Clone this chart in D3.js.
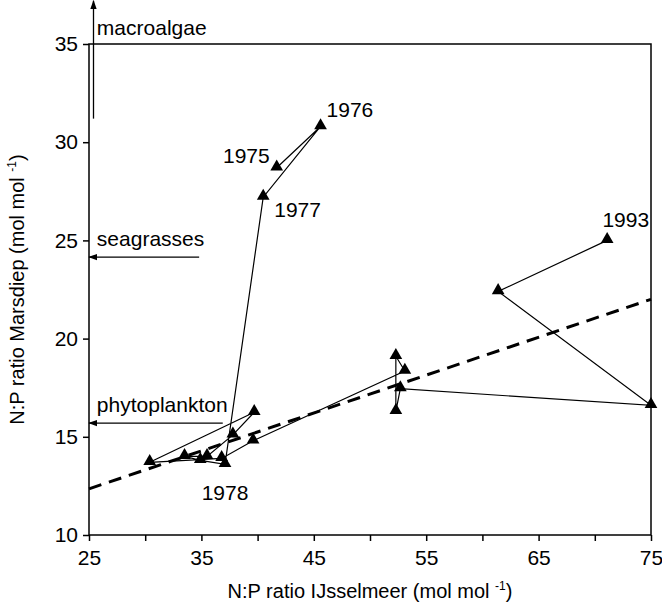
<!DOCTYPE html>
<html>
<head>
<meta charset="utf-8">
<script src="https://d3js.org/d3.v7.min.js"></script>
<style>
  body { margin: 0; background: #fff; }
  text { font-family: "Liberation Sans", Arial, sans-serif; fill: #000; }
</style>
</head>
<body>
<div id="chart"></div>
<script>
// yearly N:P ratios, IJsselmeer (x) vs Marsdiep (y)
var years = [1975, 1976, 1977, 1978, 1979, 1980, 1981, 1982, 1983, 1984,
             1985, 1986, 1987, 1988, 1989, 1990, 1991, 1992, 1993];
var npIJsselmeer = [41.7, 45.6, 40.5, 37.1, 34.9, 33.5, 35.5, 37.8, 39.7, 30.4,
                    36.8, 39.6, 53.1, 52.3, 52.3, 52.7, 75.0, 61.4, 71.1];
var npMarsdiep = [28.7, 30.8, 27.2, 13.6, 13.8, 14.0, 14.0, 15.1, 16.25, 13.7,
                  13.9, 14.8, 18.35, 19.1, 16.3, 17.45, 16.6, 22.4, 25.0];
var labelledYears = [1975, 1976, 1977, 1978, 1993];

// regression line end points
var fitX = [25, 75];
var fitY = [12.35, 22.0];

// optimum N:P ratios of the primary producers
var producers = ["macroalgae", "seagrasses", "phytoplankton"];
var producerRatio = [35, 24.15, 15.7];

var xTicks = [25, 30, 35, 40, 45, 50, 55, 60, 65, 70, 75];
var xTickLabels = [25, 35, 45, 55, 65, 75];
var yTicks = [10, 15, 20, 25, 30, 35];

var margin = { top: 44, right: 11, bottom: 69, left: 89 };
var width = 662 - margin.left - margin.right;
var height = 604 - margin.top - margin.bottom;

var svg = d3.select("#chart")
  .append("svg")
  .attr("width", 662)
  .attr("height", 604);

var defs = svg.append("defs");
defs.append("marker")
  .attr("id", "head")
  .attr("viewBox", "0 0 10 10")
  .attr("refX", 9).attr("refY", 5)
  .attr("markerWidth", 9).attr("markerHeight", 9)
  .attr("markerUnits", "userSpaceOnUse")
  .attr("orient", "auto")
  .append("path")
  .attr("d", "M0,1.5L10,5L0,8.5Z")
  .attr("fill", "#000");

var g = svg.append("g")
  .attr("transform", "translate(" + margin.left + "," + margin.top + ")");

var x = d3.scaleLinear().domain([25, 75]).range([0, width]);
var y = d3.scaleLinear().domain([10, 35]).range([height, 0]);

// plot frame
g.append("rect")
  .attr("x", 0).attr("y", 0)
  .attr("width", width).attr("height", height)
  .attr("fill", "none")
  .attr("stroke", "#000")
  .attr("stroke-width", 1.5);

// x axis
var xAxis = g.append("g")
  .attr("transform", "translate(0," + height + ")")
  .call(d3.axisBottom(x).tickValues(xTicks).tickSize(6).tickPadding(9)
    .tickFormat(function(d) { return xTickLabels.indexOf(d) >= 0 ? d : ""; }));
xAxis.select(".domain").remove();
xAxis.selectAll("line").attr("stroke", "#000").attr("stroke-width", 1.5);
xAxis.selectAll("text").attr("font-size", 21).attr("font-family", "Liberation Sans, Arial, sans-serif");

// y axis
var yAxis = g.append("g")
  .call(d3.axisLeft(y).tickValues(yTicks).tickSize(6).tickPadding(5));
yAxis.select(".domain").remove();
yAxis.selectAll("line").attr("stroke", "#000").attr("stroke-width", 1.5);
yAxis.selectAll("text").attr("font-size", 21).attr("font-family", "Liberation Sans, Arial, sans-serif");

// axis titles
var xt = svg.append("text")
  .attr("x", margin.left + width / 2)
  .attr("y", 598)
  .attr("text-anchor", "middle")
  .attr("font-size", 20);
xt.append("tspan").text("N:P ratio IJsselmeer (mol mol ");
xt.append("tspan").attr("font-size", 12).attr("dy", -8).text("-1");
xt.append("tspan").attr("dy", 8).text(")");

var yt = svg.append("text")
  .attr("transform", "translate(24," + (margin.top + height / 2) + ") rotate(-90)")
  .attr("text-anchor", "middle")
  .attr("font-size", 20);
yt.append("tspan").text("N:P ratio Marsdiep (mol mol ");
yt.append("tspan").attr("font-size", 12).attr("dy", -8).text("-1");
yt.append("tspan").attr("dy", 8).text(")");

// producer arrows
// macroalgae: vertical arrow pointing up out of the frame
g.append("line")
  .attr("x1", x(25.4)).attr("x2", x(25.4))
  .attr("y1", y(31.2)).attr("y2", y(37.2))
  .attr("stroke", "#000").attr("stroke-width", 1.3)
  .attr("marker-end", "url(#head)");
g.append("text")
  .attr("x", x(25.7)).attr("y", y(35) - 9)
  .attr("font-size", 21)
  .text(producers[0]);

var arrowStart = [null, 34.8, 36.9];
[1, 2].forEach(function(i) {
  g.append("line")
    .attr("x1", x(arrowStart[i])).attr("x2", x(25))
    .attr("y1", y(producerRatio[i])).attr("y2", y(producerRatio[i]))
    .attr("stroke", "#000").attr("stroke-width", 1.3)
    .attr("marker-end", "url(#head)");
  g.append("text")
    .attr("x", x(25.7)).attr("y", y(producerRatio[i]) - 11)
    .attr("font-size", 21)
    .text(producers[i]);
});

// regression line
g.append("line")
  .attr("x1", x(fitX[0])).attr("y1", y(fitY[0]))
  .attr("x2", x(fitX[1])).attr("y2", y(fitY[1]))
  .attr("stroke", "#000")
  .attr("stroke-width", 3)
  .attr("stroke-dasharray", "13,8");

// trajectory through the years
var pts = years.map(function(yr, i) {
  return { year: yr, nx: npIJsselmeer[i], ny: npMarsdiep[i] };
});

g.append("path")
  .datum(pts)
  .attr("fill", "none")
  .attr("stroke", "#000")
  .attr("stroke-width", 1.2)
  .attr("d", d3.line()
    .x(function(d) { return x(d.nx); })
    .y(function(d) { return y(d.ny); }));

g.selectAll(".pt")
  .data(pts)
  .enter()
  .append("path")
  .attr("class", "pt")
  .attr("transform", function(d) {
    return "translate(" + x(d.nx) + "," + (y(d.ny) - 1) + ")";
  })
  .attr("d", d3.symbol().type(d3.symbolTriangle).size(70))
  .attr("fill", "#000");

// year labels
var labelPos = {
  1975: { dx: -7, dy: -5, anchor: "end" },
  1976: { dx: 6, dy: -9, anchor: "start" },
  1977: { dx: 11, dy: 20, anchor: "start" },
  1978: { dx: 0, dy: 36, anchor: "middle" },
  1993: { dx: 42, dy: -13, anchor: "end" }
};
g.selectAll(".yr")
  .data(pts.filter(function(d) { return labelledYears.indexOf(d.year) >= 0; }))
  .enter()
  .append("text")
  .attr("class", "yr")
  .attr("x", function(d) { return x(d.nx) + labelPos[d.year].dx; })
  .attr("y", function(d) { return y(d.ny) + labelPos[d.year].dy; })
  .attr("text-anchor", function(d) { return labelPos[d.year].anchor; })
  .attr("font-size", 21)
  .text(function(d) { return d.year; });
</script>
</body>
</html>
